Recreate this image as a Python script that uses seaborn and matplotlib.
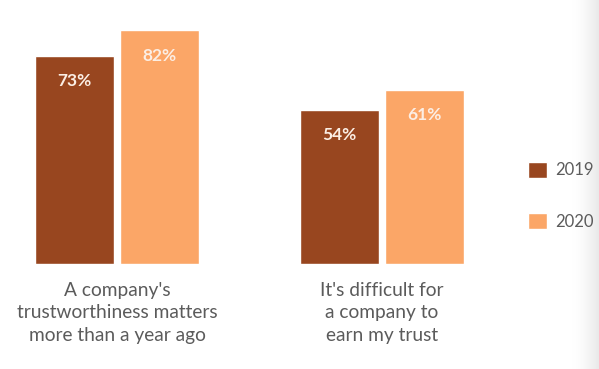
import numpy as np
import pandas as pd
import matplotlib
matplotlib.use("Agg")
import matplotlib.pyplot as plt
import seaborn as sns

# Survey statements and share agreeing, by year
statements = [
    "A company's\ntrustworthiness matters\nmore than a year ago",
    "It's difficult for\na company to\nearn my trust",
]
years = ["2019", "2020"]
share_2019 = [73, 54]
share_2020 = [82, 61]

df = pd.DataFrame({
    "statement": statements * 2,
    "year": [years[0]] * 2 + [years[1]] * 2,
    "share": share_2019 + share_2020,
})

sns.set_theme(style="white")
plt.rcParams["font.family"] = ["Lato", "DejaVu Sans"]

palette = {"2019": "#98461f", "2020": "#fba667"}
text_grey = "#5b5b5b"

W, H = 599, 369
fig = plt.figure(figsize=(W / 100, H / 100), dpi=100)
fig.patch.set_facecolor("white")

# Soft grey shading along the right edge of the page
shade = fig.add_axes([0.955, 0, 0.045, 1], zorder=-5)
grad = np.linspace(0, 1, 50) ** 1.6
shade.imshow(grad[None, :], cmap=matplotlib.colors.LinearSegmentedColormap.from_list(
    "edge", ["#ffffff", "#e9e9e9"]), aspect="auto", extent=[0, 1, 0, 1])
shade.axis("off")

ax = fig.add_axes([0, (H - 264) / H, 1, 264 / H])
ax.patch.set_alpha(0)

sns.barplot(
    data=df, x="statement", y="share", hue="year",
    hue_order=years, palette=palette, width=0.64, gap=0.06,
    saturation=1, ax=ax, legend=True,
)

px_per_cat = 265
ax.set_xlim(-117 / px_per_cat, (W - 117) / px_per_cat)
ax.set_ylim(0, 264 / 2.85)

for cont in ax.containers:
    ax.bar_label(cont, labels=[f"{v:.0f}%" for v in cont.datavalues],
                 padding=-24, color="#fbeee4", fontsize=12.5,
                 fontweight="bold")

ax.set_xlabel("")
ax.set_ylabel("")
ax.set_yticks([])
ax.tick_params(axis="x", length=0, pad=13, labelsize=13.8, labelcolor=text_grey)
for lbl in ax.get_xticklabels():
    lbl.set_linespacing(1.38)
for s in ax.spines.values():
    s.set_visible(False)

sns.move_legend(
    ax, loc="center left", bbox_to_anchor=(520 / W, 1 - 195.5 / H),
    bbox_transform=fig.transFigure, title=None, frameon=False,
    fontsize=12, handlelength=1.1, handleheight=1.1, handletextpad=0.5,
    labelspacing=2.08, borderpad=0,
)
for t in ax.get_legend().get_texts():
    t.set_color(text_grey)

fig.savefig("out.png", dpi=100, facecolor="white")
